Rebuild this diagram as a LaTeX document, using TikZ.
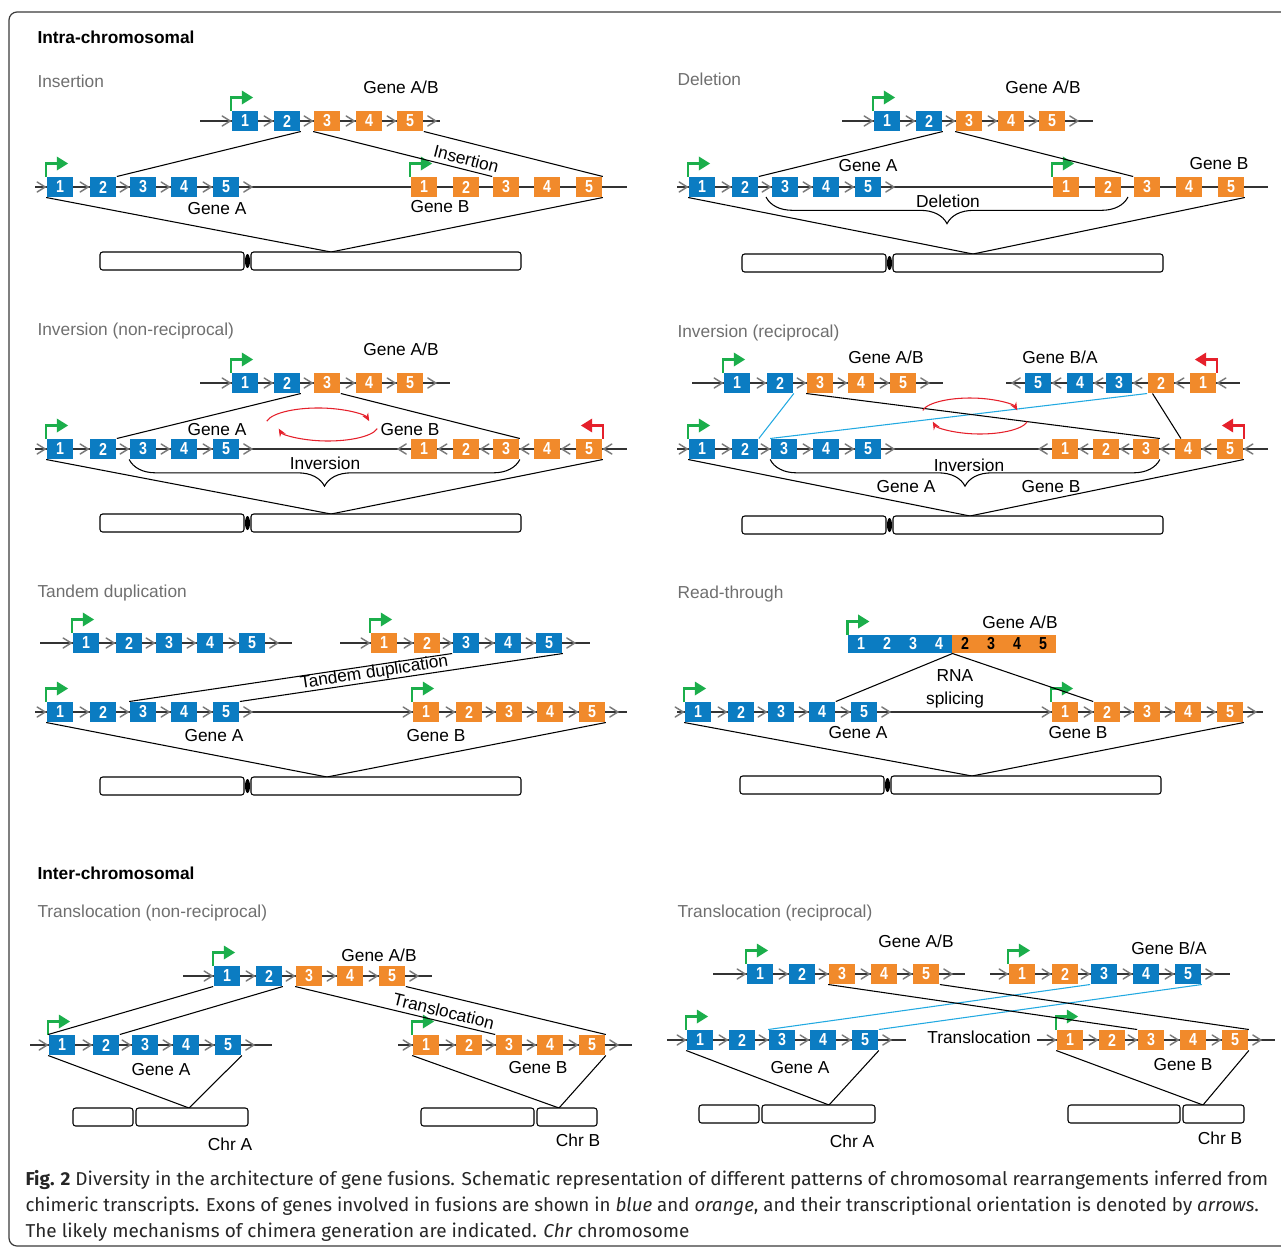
\documentclass[tikz,border=0pt]{standalone}
\usepackage{fontspec}
\usepackage{graphicx}
\setmainfont{Liberation Sans}
\newfontfamily\capfont{Fira Sans}
\newfontfamily\exfont[FakeStretch=0.82]{Liberation Sans}
\usetikzlibrary{arrows.meta,decorations.pathreplacing}
\definecolor{exblue}{HTML}{0B7CC2}
\definecolor{exorange}{HTML}{F18A2B}
\definecolor{promgreen}{HTML}{1BAE4B}
\definecolor{promred}{HTML}{E5202B}
\definecolor{linkcyan}{HTML}{22A9E1}
\definecolor{chevgray}{HTML}{7A7A7A}
\definecolor{titlegray}{HTML}{6F6F6F}
\definecolor{framegray}{HTML}{3A3A3A}
\tikzset{every picture/.style={line width=0.75pt},
  exon/.style={minimum width=20pt, minimum height=15pt, inner sep=0pt, text=white, font=\exfont\bfseries\fontsize{13}{13}\selectfont},
  ea/.style={exon, fill=exblue},
  eb/.style={exon, fill=exorange},
  dna/.style={line width=0.9pt, draw=black!80},
  chev/.style={draw=chevgray, line width=1.1pt, line cap=round},
  conn/.style={line width=0.8pt, draw=black},
  cconn/.style={line width=0.8pt, draw=linkcyan},
  promg/.style={draw=promgreen, line width=1.8pt, -{Triangle[length=8.5pt,width=10pt]}},
  promrd/.style={draw=promred, line width=1.8pt, -{Triangle[length=8.5pt,width=10pt]}},
  chrom/.style={draw=black, line width=0.8pt, rounded corners=2pt, fill=white},
  brc/.style={decorate, decoration={brace, mirror, amplitude=20pt}, line width=0.8pt},
  rarc/.style={draw=promred, line width=0.8pt, -{Stealth[length=6pt,width=5pt]}},
  lbl/.style={font=\fontsize{13}{17}\selectfont, inner sep=0pt},
  ttl/.style={font=\fontsize{13}{15}\selectfont, text=titlegray, anchor=west, inner sep=0pt},
  hdr/.style={font=\bfseries\fontsize{13}{15}\selectfont, anchor=west, inner sep=0pt},
  captxt/.style={anchor=west, inner sep=0pt, font=\capfont\fontsize{14}{16}\selectfont, text=black!85}
}
% exon with chevron in front (forward), behind (reverse), or none
\newcommand{\fex}[5]{\node[#4] (#1) at (#2,#3) {#5};
  \draw[chev] (#1.west) ++(-9,-5) -- ++(8,5) -- ++(-8,5);}
\newcommand{\rex}[5]{\node[#4] (#1) at (#2,#3) {#5};
  \draw[chev] (#1.east) ++(9,-5) -- ++(-8,5) -- ++(8,5);}
\newcommand{\pex}[5]{\node[#4] (#1) at (#2,#3) {#5};}
\newcommand{\fend}[1]{\draw[chev] (#1.east) ++(4,-5) -- ++(8,5) -- ++(-8,5);}
\newcommand{\rend}[1]{\draw[chev] (#1.west) ++(-4,-5) -- ++(-8,5) -- ++(8,5);}
% promoters
\newcommand{\promf}[1]{\draw[promg] (#1.north west) -- ++(0,-13) -- ++(22,0);}
\newcommand{\promr}[1]{\draw[promrd] (#1.north east) -- ++(0,-13) -- ++(-22,0);}
% chromosomes: left end, centromere, right end, top
\newcommand{\chromo}[4]{\draw[chrom] (#1,#4) rectangle (#2-3.5,#4+18);
  \draw[chrom] (#2+3.5,#4) rectangle (#3,#4+18);
  \fill (#2,#4+9) ellipse [x radius=2.5, y radius=7];}
\newcommand{\chromt}[4]{\draw[chrom] (#1,#4) rectangle (#2-1.5,#4+18);
  \draw[chrom] (#2+1.5,#4) rectangle (#3,#4+18);}

\begin{document}
\begin{tikzpicture}[x=0.75pt,y=0.75pt,yscale=-1,xscale=1]
\useasboundingbox (0,0) rectangle (1281,1249);
\draw[framegray, line width=0.9pt, rounded corners=6pt] (9,12) rectangle (1300,1246);

\node[hdr] (intra) at (37,37) {Intra-chromosomal};

%Insertion
\node[ttl] (ins-title) at (37,81) {Insertion};
\draw[dna] (200,121) -- (440,121);
\draw[dna] (35,187) -- (627,187);
\fex{ins-t1}{245}{121}{ea}{1}
\fex{ins-t2}{287}{121}{ea}{2}
\fex{ins-t3}{327}{121}{eb}{3}
\fex{ins-t4}{369}{121}{eb}{4}
\fex{ins-t5}{410}{121}{eb}{5}
\fend{ins-t5}
\promf{ins-t1}
\fex{ins-a1}{60}{187}{ea}{1}
\fex{ins-a2}{103}{187}{ea}{2}
\fex{ins-a3}{143}{187}{ea}{3}
\fex{ins-a4}{184}{187}{ea}{4}
\fex{ins-a5}{226}{187}{ea}{5}
\fend{ins-a5}
\pex{ins-b1}{424}{187}{eb}{1}
\pex{ins-b2}{466}{187}{eb}{2}
\pex{ins-b3}{506}{187}{eb}{3}
\pex{ins-b4}{547}{187}{eb}{4}
\pex{ins-b5}{589}{187}{eb}{5}
\promf{ins-a1}
\promf{ins-b1}
\node[lbl] (ins-gab) at (401,87) {Gene A/B};
\node[lbl] (ins-ga) at (217,209) {Gene A};
\node[lbl] (ins-gb) at (440,207) {Gene B};
\draw[conn] (ins-t2.south east) -- (ins-a2.north east);
\draw[conn] (ins-t3.south west) -- (ins-b3.north west) node[lbl, pos=0.84, rotate=-14.4, above=3pt] {Insertion};
\draw[conn] (ins-t5.south east) -- (ins-b5.north east);
\coordinate (ins-c) at (331,252);
\draw[conn] (ins-a1.south west) -- (ins-c) -- (ins-b5.south east);
\chromo{100}{247.5}{521}{252}

%Deletion
\node[ttl] (del-title) at (677,79) {Deletion};
\draw[dna] (842,121) -- (1093,121);
\draw[dna] (677,187) -- (1268,187);
\fex{del-t1}{887}{121}{ea}{1}
\fex{del-t2}{929}{121}{ea}{2}
\fex{del-t3}{969}{121}{eb}{3}
\fex{del-t4}{1011}{121}{eb}{4}
\fex{del-t5}{1052}{121}{eb}{5}
\fend{del-t5}
\promf{del-t1}
\fex{del-a1}{702}{187}{ea}{1}
\fex{del-a2}{745}{187}{ea}{2}
\fex{del-a3}{785}{187}{ea}{3}
\fex{del-a4}{826}{187}{ea}{4}
\fex{del-a5}{868}{187}{ea}{5}
\fend{del-a5}
\pex{del-b1}{1066}{187}{eb}{1}
\pex{del-b2}{1108}{187}{eb}{2}
\pex{del-b3}{1147}{187}{eb}{3}
\pex{del-b4}{1189}{187}{eb}{4}
\pex{del-b5}{1231}{187}{eb}{5}
\promf{del-a1}
\promf{del-b1}
\node[lbl] (del-gab) at (1043,87) {Gene A/B};
\node[lbl] (del-ga) at (868,166) {Gene A};
\node[lbl] (del-gb) at (1219,164) {Gene B};
\draw[conn] (del-t2.south east) -- (del-a2.north east);
\draw[conn] (del-t3.south west) -- (del-b3.north west);
\coordinate (del-bl) at (766,197);
\coordinate (del-br) at (1128,197);
\draw[brc] (del-bl) -- (del-br);
\node[lbl] (del-txt) at (948,201) {Deletion};
\coordinate (del-c) at (973,254);
\draw[conn] (del-a1.south west) -- (del-c) -- (del-b5.south east);
\chromo{742}{889.5}{1163}{254}

%Inversion (non-reciprocal)
\node[ttl] (inv-title) at (37,331) {Inversion (non-reciprocal)};
\draw[dna] (200,383) -- (450,383);
\draw[dna] (35,449) -- (627,449);
\fex{inv-t1}{245}{383}{ea}{1}
\fex{inv-t2}{287}{383}{ea}{2}
\fex{inv-t3}{327}{383}{eb}{3}
\fex{inv-t4}{369}{383}{eb}{4}
\fex{inv-t5}{410}{383}{eb}{5}
\fend{inv-t5}
\promf{inv-t1}
\fex{inv-a1}{60}{449}{ea}{1}
\fex{inv-a2}{103}{449}{ea}{2}
\fex{inv-a3}{143}{449}{ea}{3}
\fex{inv-a4}{184}{449}{ea}{4}
\fex{inv-a5}{226}{449}{ea}{5}
\fend{inv-a5}
\rex{inv-b1}{424}{449}{eb}{1}
\rex{inv-b2}{466}{449}{eb}{2}
\rex{inv-b3}{506}{449}{eb}{3}
\rex{inv-b4}{547}{449}{eb}{4}
\rex{inv-b5}{589}{449}{eb}{5}
\rend{inv-b1}
\promf{inv-a1}
\promr{inv-b5}
\node[lbl] (inv-gab) at (401,349) {Gene A/B};
\node[lbl] (inv-ga) at (217,430) {Gene A};
\node[lbl] (inv-gb) at (410,430) {Gene B};
\draw[conn] (inv-t2.south east) -- (inv-a2.north east);
\draw[conn] (inv-t3.south east) -- (inv-b3.north east);
\draw[rarc] (266.8,421.2) arc[start angle=190, end angle=350, x radius=52, y radius=16];
\draw[rarc] (377.2,428.6) arc[start angle=10, end angle=170, x radius=50, y radius=15];
\draw[brc] (inv-a3.south west) -- (inv-b3.south east);
\node[lbl] (inv-txt) at (325,463) {Inversion};
\coordinate (inv-c) at (331,514);
\draw[conn] (inv-a1.south west) -- (inv-c) -- (inv-b5.south east);
\chromo{100}{247.5}{521}{514}

%Inversion (reciprocal)
\node[ttl] (ir-title) at (677,333) {Inversion (reciprocal)};
\draw[dna] (692,383) -- (943,383);
\draw[dna] (1006,383) -- (1240,383);
\draw[dna] (677,449) -- (1268,449);
\fex{ir-t1}{737}{383}{ea}{1}
\fex{ir-t2}{780}{383}{ea}{2}
\fex{ir-t3}{820}{383}{eb}{3}
\fex{ir-t4}{861}{383}{eb}{4}
\fex{ir-t5}{903}{383}{eb}{5}
\fend{ir-t5}
\promf{ir-t1}
\rex{ir-s5}{1038}{383}{ea}{5}
\rex{ir-s4}{1080}{383}{ea}{4}
\rex{ir-s3}{1119}{383}{ea}{3}
\rex{ir-s2}{1161}{383}{eb}{2}
\rex{ir-s1}{1203}{383}{eb}{1}
\rend{ir-s5}
\promr{ir-s1}
\fex{ir-a1}{702}{449}{ea}{1}
\fex{ir-a2}{745}{449}{ea}{2}
\fex{ir-a3}{784}{449}{ea}{3}
\fex{ir-a4}{826}{449}{ea}{4}
\fex{ir-a5}{868}{449}{ea}{5}
\fend{ir-a5}
\rex{ir-b1}{1065}{449}{eb}{1}
\rex{ir-b2}{1106}{449}{eb}{2}
\rex{ir-b3}{1146}{449}{eb}{3}
\rex{ir-b4}{1188}{449}{eb}{4}
\rex{ir-b5}{1230}{449}{eb}{5}
\rend{ir-b1}
\promf{ir-a1}
\promr{ir-b5}
\node[lbl] (ir-gab) at (886,357) {Gene A/B};
\node[lbl] (ir-gba) at (1060,357) {Gene B/A};
\draw[cconn] (ir-t2.south east) -- (ir-a2.north east);
\draw[cconn] (ir-s2.south west) -- (ir-a3.north west);
\draw[conn] (ir-t3.south west) -- (ir-b3.north east);
\draw[conn] ([xshift=4pt]ir-s2.south west) -- ([xshift=5pt]ir-b4.north west);
\draw[rarc] (922.7,410.4) arc[start angle=190, end angle=350, x radius=48, y radius=15];
\draw[rarc] (1027.3,421.6) arc[start angle=10, end angle=170, x radius=48, y radius=15];
\draw[brc] (ir-a3.south west) -- (ir-b3.south east);
\node[lbl] (ir-txt) at (969,465) {Inversion};
\node[lbl] (ir-ga) at (906,487) {Gene A};
\node[lbl] (ir-gb) at (1051,487) {Gene B};
\coordinate (ir-c) at (970,516);
\draw[conn] (ir-a1.south west) -- (ir-c) -- (ir-b5.south east);
\chromo{742}{889.5}{1163}{516}

%Tandem duplication
\node[ttl] (td-title) at (37,593) {Tandem duplication};
\draw[dna] (40,643) -- (292,643);
\draw[dna] (340,643) -- (590,643);
\draw[dna] (35,712) -- (627,712);
\fex{td-k1}{86}{643}{ea}{1}
\fex{td-k2}{129}{643}{ea}{2}
\fex{td-k3}{169}{643}{ea}{3}
\fex{td-k4}{210}{643}{ea}{4}
\fex{td-k5}{252}{643}{ea}{5}
\fend{td-k5}
\promf{td-k1}
\fex{td-s1}{384}{643}{eb}{1}
\fex{td-s2}{427}{643}{eb}{2}
\fex{td-s3}{466}{643}{ea}{3}
\fex{td-s4}{508}{643}{ea}{4}
\fex{td-s5}{549}{643}{ea}{5}
\fend{td-s5}
\promf{td-s1}
\fex{td-a1}{60}{712}{ea}{1}
\fex{td-a2}{103}{712}{ea}{2}
\fex{td-a3}{143}{712}{ea}{3}
\fex{td-a4}{184}{712}{ea}{4}
\fex{td-a5}{226}{712}{ea}{5}
\fend{td-a5}
\fex{td-b1}{426}{712}{eb}{1}
\fex{td-b2}{469}{712}{eb}{2}
\fex{td-b3}{509}{712}{eb}{3}
\fex{td-b4}{550}{712}{eb}{4}
\fex{td-b5}{592}{712}{eb}{5}
\fend{td-b5}
\promf{td-a1}
\promf{td-b1}
\node[lbl] (td-ga) at (214,736) {Gene A};
\node[lbl] (td-gb) at (436,736) {Gene B};
\draw[conn] (td-s3.south west) -- (td-a3.north west);
\draw[conn] (td-a5.north east) -- (td-s5.south east) node[lbl, pos=0.42, rotate=8.6, above=0pt] {Tandem duplication};
\coordinate (td-c) at (327,777);
\draw[conn] (td-a1.south west) -- (td-c) -- (td-b5.south east);
\chromo{100}{247.5}{521}{777}

%Read-through
\node[ttl] (rt-title) at (677,594) {Read-through};
\node[ea, minimum width=78pt, minimum height=13.5pt] (rt-bl) at (900,644) {\makebox[19.5pt]{1}\makebox[19.5pt]{2}\makebox[19.5pt]{3}\makebox[19.5pt]{4}};
\node[eb, minimum width=78pt, minimum height=13.5pt, text=black] (rt-or) at (1004,644) {\makebox[19.5pt]{2}\makebox[19.5pt]{3}\makebox[19.5pt]{4}\makebox[19.5pt]{5}};
\promf{rt-bl}
\node[lbl] (rt-gab) at (1020,622) {Gene A/B};
\draw[dna] (677,712) -- (1263,712);
\fex{rt-a1}{698}{712}{ea}{1}
\fex{rt-a2}{741}{712}{ea}{2}
\fex{rt-a3}{781}{712}{ea}{3}
\fex{rt-a4}{822}{712}{ea}{4}
\fex{rt-a5}{864}{712}{ea}{5}
\fend{rt-a5}
\fex{rt-b1}{1065}{712}{eb}{1}
\fex{rt-b2}{1107}{712}{eb}{2}
\fex{rt-b3}{1147}{712}{eb}{3}
\fex{rt-b4}{1188}{712}{eb}{4}
\fex{rt-b5}{1230}{712}{eb}{5}
\fend{rt-b5}
\promf{rt-a1}
\promf{rt-b1}
\draw[conn] (rt-a4.north east) -- (rt-bl.south east) -- (rt-b2.north west);
\node[lbl, align=center] (rt-spl) at (955,689) {RNA\\splicing};
\node[lbl] (rt-ga) at (858,733) {Gene A};
\node[lbl] (rt-gb) at (1078,733) {Gene B};
\coordinate (rt-c) at (972,776);
\draw[conn] (rt-a1.south west) -- (rt-c) -- (rt-b5.south east);
\chromo{740}{887.5}{1161}{776}

\node[hdr] (inter) at (37,873) {Inter-chromosomal};

%Translocation (non-reciprocal)
\node[ttl] (tn-title) at (37,913) {Translocation (non-reciprocal)};
\draw[dna] (183,976) -- (432,976);
\draw[dna] (30,1045) -- (272,1045);
\draw[dna] (398,1045) -- (632,1045);
\fex{tn-t1}{227}{976}{ea}{1}
\fex{tn-t2}{269}{976}{ea}{2}
\fex{tn-t3}{309}{976}{eb}{3}
\fex{tn-t4}{350}{976}{eb}{4}
\fex{tn-t5}{392}{976}{eb}{5}
\fend{tn-t5}
\promf{tn-t1}
\fex{tn-a1}{62}{1045}{ea}{1}
\fex{tn-a2}{106}{1045}{ea}{2}
\fex{tn-a3}{145}{1045}{ea}{3}
\fex{tn-a4}{186}{1045}{ea}{4}
\fex{tn-a5}{228}{1045}{ea}{5}
\fend{tn-a5}
\promf{tn-a1}
\fex{tn-b1}{426}{1045}{eb}{1}
\fex{tn-b2}{469}{1045}{eb}{2}
\fex{tn-b3}{509}{1045}{eb}{3}
\fex{tn-b4}{550}{1045}{eb}{4}
\fex{tn-b5}{592}{1045}{eb}{5}
\fend{tn-b5}
\promf{tn-b1}
\node[lbl] (tn-gab) at (379,955) {Gene A/B};
\node[lbl] (tn-ga) at (161,1070) {Gene A};
\node[lbl] (tn-gb) at (538,1068) {Gene B};
\draw[conn] (tn-t1.south west) -- (tn-a1.north west);
\draw[conn] (tn-t2.south east) -- (tn-a2.north east);
\draw[conn] (tn-t3.south west) -- (tn-b3.north west) node[lbl, pos=0.73, rotate=-13.8, above=3pt] {Translocation};
\draw[conn] (tn-t5.south east) -- (tn-b5.north east);
\coordinate (tn-ca) at (189,1108);
\coordinate (tn-cb) at (559,1108);
\draw[conn] (tn-a1.south west) -- (tn-ca) -- (tn-a5.south east);
\draw[conn] (tn-b1.south west) -- (tn-cb) -- (tn-b5.south east);
\chromt{73}{134.5}{248}{1108}
\chromt{421}{535.5}{597}{1108}
\node[lbl] (tn-chra) at (230,1144) {Chr A};
\node[lbl] (tn-chrb) at (578,1140) {Chr B};

%Translocation (reciprocal)
\node[ttl] (tr-title) at (677,913) {Translocation (reciprocal)};
\draw[dna] (713,974) -- (965,974);
\draw[dna] (990,974) -- (1230,974);
\draw[dna] (667,1040) -- (906,1040);
\draw[dna] (1037,1040) -- (1275,1040);
\fex{tr-t1}{760}{974}{ea}{1}
\fex{tr-t2}{802}{974}{ea}{2}
\fex{tr-t3}{842}{974}{eb}{3}
\fex{tr-t4}{884}{974}{eb}{4}
\fex{tr-t5}{926}{974}{eb}{5}
\fend{tr-t5}
\promf{tr-t1}
\fex{tr-s1}{1022}{974}{eb}{1}
\fex{tr-s2}{1065}{974}{eb}{2}
\fex{tr-s3}{1104}{974}{ea}{3}
\fex{tr-s4}{1146}{974}{ea}{4}
\fex{tr-s5}{1188}{974}{ea}{5}
\fend{tr-s5}
\promf{tr-s1}
\fex{tr-a1}{700}{1040}{ea}{1}
\fex{tr-a2}{742}{1040}{ea}{2}
\fex{tr-a3}{782}{1040}{ea}{3}
\fex{tr-a4}{823}{1040}{ea}{4}
\fex{tr-a5}{865}{1040}{ea}{5}
\fend{tr-a5}
\promf{tr-a1}
\fex{tr-b1}{1070}{1040}{eb}{1}
\fex{tr-b2}{1112}{1040}{eb}{2}
\fex{tr-b3}{1151}{1040}{eb}{3}
\fex{tr-b4}{1193}{1040}{eb}{4}
\fex{tr-b5}{1235}{1040}{eb}{5}
\fend{tr-b5}
\promf{tr-b1}
\node[lbl] (tr-gab) at (916,941) {Gene A/B};
\node[lbl] (tr-gba) at (1169,948) {Gene B/A};
\node[lbl] (tr-ga) at (800,1068) {Gene A};
\node[lbl] (tr-gb) at (1183,1065) {Gene B};
\node[lbl] (tr-txt) at (979,1037) {Translocation};
\draw[cconn] (tr-s3.south west) -- (tr-a3.north west);
\draw[cconn] (tr-s5.south east) -- (tr-a5.north east);
\draw[conn] (tr-t3.south west) -- (tr-b3.north west);
\draw[conn] (tr-t5.south east) -- (tr-b5.north east);
\coordinate (tr-ca) at (829,1105);
\coordinate (tr-cb) at (1203,1105);
\draw[conn] (tr-a1.south west) -- (tr-ca) -- (tr-a5.south east);
\draw[conn] (tr-b1.south west) -- (tr-cb) -- (tr-b5.south east);
\chromt{699}{760.5}{875}{1105}
\chromt{1068}{1181.5}{1244}{1105}
\node[lbl] (tr-chra) at (852,1141) {Chr A};
\node[lbl] (tr-chrb) at (1220,1138) {Chr B};

%Caption
\node[captxt] (cap1) at (25,1180) {\resizebox{932pt}{\height}{\textbf{Fig. 2} Diversity in the architecture of gene fusions. Schematic representation of different patterns of chromosomal rearrangements inferred from}};
\node[captxt] (cap2) at (25,1206) {\resizebox{925pt}{\height}{chimeric transcripts. Exons of genes involved in fusions are shown in \textit{blue} and \textit{orange}, and their transcriptional orientation is denoted by \textit{arrows}.}};
\node[captxt] (cap3) at (25,1232) {\resizebox{498pt}{\height}{The likely mechanisms of chimera generation are indicated. \textit{Chr} chromosome}};

\end{tikzpicture}
\end{document}
